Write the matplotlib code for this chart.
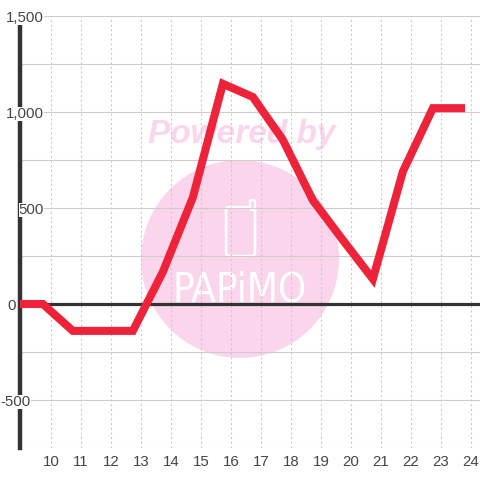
import matplotlib
matplotlib.use("Agg")
import matplotlib.pyplot as plt
from matplotlib.patches import Circle, FancyBboxPatch

plt.rcParams['font.family'] = ['Liberation Sans', 'DejaVu Sans']

hours = [8.97, 9.73, 10.73, 11.73, 12.73, 13.73, 14.73, 15.73, 16.73, 17.73, 18.73, 19.73, 20.73, 21.73, 22.73, 23.8]
values = [0, 0, -140, -140, -140, 167, 555, 1147, 1078, 855, 540, 333, 130, 690, 1020, 1020]
x_ticks = list(range(10, 25))
y_major = [-500, 0, 500, 1000, 1500]
y_major_labels = ['-500', '0', '500', '1,000', '1,500']
y_label_right_px = [31, 16, 44, 44, 44]
y_minor = [-750, -250, 250, 750, 1250]

W = 480
px = 1 / W
fig = plt.figure(figsize=(4.8, 4.8), dpi=100, facecolor='white')
ax = fig.add_axes([20 * px, (480 - 448) * px, 460 * px, 432 * px])
ax.set_xlim(8.97, 24.3)
ax.set_ylim(-750, 1500)
ax.patch.set_visible(False)
for s in ax.spines.values():
    s.set_visible(False)

# watermark (figure coordinates)
pink = '#fbd5ec'
fig.patches.append(Circle((240 * px, 1 - 259 * px), 99 * px, transform=fig.transFigure,
                          facecolor=pink, edgecolor='none', zorder=-5))
fig.patches.append(FancyBboxPatch((226 * px, 1 - 256 * px), 29 * px, 49 * px,
                                  boxstyle=f'round,pad=0,rounding_size={3*px}', transform=fig.transFigure,
                                  facecolor='none', edgecolor='white', lw=1.8, zorder=-4))
fig.patches.append(FancyBboxPatch((250 * px, 1 - 210 * px), 5 * px, 10 * px,
                                  boxstyle=f'round,pad=0,rounding_size={2*px}', transform=fig.transFigure,
                                  facecolor=pink, edgecolor='white', lw=1.5, zorder=-4))
fig.text(242 * px, 1 - 134 * px, 'Powered by', color=pink, fontsize=24, fontweight='bold',
         fontstyle='italic', ha='center', va='center', zorder=-4)
fig.text(240 * px, 1 - 291 * px, 'PAPiMO', color='white', fontsize=29, family='DejaVu Sans',
         stretch='condensed', ha='center', va='center', zorder=-4)

ax.vlines(x_ticks, -750, 1500, colors='#c8c8c8', lw=0.75, linestyles=(0, (2, 2.5)), zorder=1)
ax.hlines(y_minor + y_major, 8.97, 24.3, colors='#cccccc', lw=0.8, zorder=1)
ax.axhline(0, color='#333333', lw=2.3, zorder=2)
ax.axvline(8.97, color='#333333', lw=3.2, zorder=2, clip_on=False)
ax.plot(hours, values, color='#ee2238', lw=5.8, solid_joinstyle='miter',
        solid_capstyle='butt', zorder=4)

ax.set_xticks(x_ticks)
ax.set_xticklabels([str(v) for v in x_ticks])
ax.set_yticks(y_major)
ax.set_yticklabels([])
ax.tick_params(axis='both', length=0, labelsize=10.8, labelcolor='#444444')
ax.tick_params(axis='x', pad=5)
for v, lab, right in zip(y_major, y_major_labels, y_label_right_px):
    ax.annotate(lab, xy=(0, v), xycoords=('axes fraction', 'data'),
                xytext=((right - 20) / 100 * 72, -1.1), textcoords='offset points',
                ha='right', va='center', fontsize=10.8, color='#444444', zorder=3,
                annotation_clip=False,
                bbox=dict(facecolor='white', edgecolor='none', pad=0))
fig.savefig('out.png', dpi=100)
